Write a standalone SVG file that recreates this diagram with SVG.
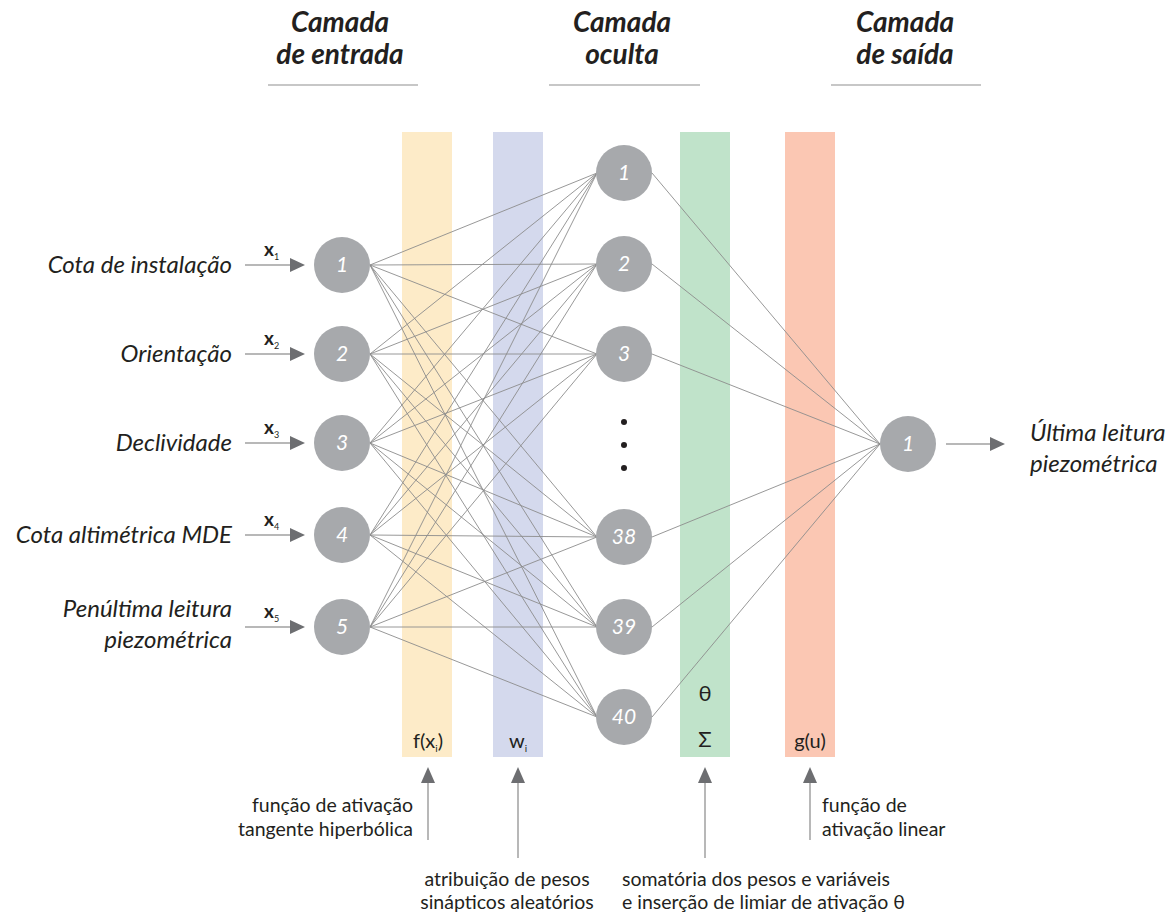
<svg xmlns="http://www.w3.org/2000/svg" width="1176" height="913" viewBox="0 0 1176 913">
<defs>
<style>
.hdr{font-family:Lato,"Open Sans",sans-serif;font-weight:bold;font-style:italic;font-size:28px;fill:#231f20;text-anchor:middle}
.lbl{font-family:Lato,"Open Sans",sans-serif;font-style:italic;font-size:24px;fill:#231f20}
.ann{font-family:Lato,"Open Sans",sans-serif;font-size:19.5px;fill:#231f20}
.sym{font-family:Lato,"Open Sans",sans-serif;font-size:20px;fill:#231f20;text-anchor:middle}
.sub{font-size:10px}
.xl{font-family:Lato,"Open Sans",sans-serif;font-size:19px;font-weight:bold;fill:#231f20}
.node circle{fill:#a7a9ac}
.node text{font-family:Lato,"Open Sans",sans-serif;font-style:italic;font-size:21px;fill:#ffffff;text-anchor:middle}
.conn line{stroke:#8c8c8c;stroke-width:0.9}
.rule{stroke:#b5b5b5;stroke-width:1.5}
.arr{stroke:#a0a0a0;stroke-width:1.5}
.head{fill:#6d6e71}
</style>
</defs>
<rect width="1176" height="913" fill="#ffffff"/>
<g id="headers">
<text class="hdr" x="340" y="32">Camada</text>
<text class="hdr" x="340" y="64">de entrada</text>
<line class="rule" x1="268" y1="85" x2="418" y2="85"/>
<text class="hdr" x="622" y="32">Camada</text>
<text class="hdr" x="622" y="64">oculta</text>
<line class="rule" x1="549" y1="85" x2="700" y2="85"/>
<text class="hdr" x="905" y="32">Camada</text>
<text class="hdr" x="905" y="64">de saída</text>
<line class="rule" x1="831" y1="85" x2="981" y2="85"/>
</g>
<g id="bars">
<rect x="402" y="132" width="50" height="625" fill="#fdebc8"/>
<rect x="493" y="132" width="50" height="625" fill="#d4d9ed"/>
<rect x="680" y="132" width="50" height="625" fill="#c0e3ca"/>
<rect x="785" y="132" width="50" height="625" fill="#fbc7b3"/>
<text class="sym" x="428" y="748">f(x<tspan class="sub" dy="4">i</tspan><tspan dy="-4">)</tspan></text>
<text class="sym" x="518" y="748">w<tspan class="sub" dy="4">i</tspan></text>
<text class="sym" x="705" y="701" style="font-size:22px">θ</text>
<text class="sym" x="705" y="747" style="font-size:22px">Σ</text>
<text class="sym" x="810" y="748">g(u)</text>
</g>
<g id="connectors" class="conn">
<line x1="370" y1="265" x2="597" y2="173"/><line x1="370" y1="265" x2="597" y2="264"/><line x1="370" y1="265" x2="597" y2="354"/><line x1="370" y1="265" x2="597" y2="537"/><line x1="370" y1="265" x2="597" y2="627"/><line x1="370" y1="265" x2="597" y2="717"/>
<line x1="370" y1="354" x2="597" y2="173"/><line x1="370" y1="354" x2="597" y2="264"/><line x1="370" y1="354" x2="597" y2="354"/><line x1="370" y1="354" x2="597" y2="537"/><line x1="370" y1="354" x2="597" y2="627"/><line x1="370" y1="354" x2="597" y2="717"/>
<line x1="370" y1="443" x2="597" y2="173"/><line x1="370" y1="443" x2="597" y2="264"/><line x1="370" y1="443" x2="597" y2="354"/><line x1="370" y1="443" x2="597" y2="537"/><line x1="370" y1="443" x2="597" y2="627"/><line x1="370" y1="443" x2="597" y2="717"/>
<line x1="370" y1="535" x2="597" y2="173"/><line x1="370" y1="535" x2="597" y2="264"/><line x1="370" y1="535" x2="597" y2="354"/><line x1="370" y1="535" x2="597" y2="537"/><line x1="370" y1="535" x2="597" y2="627"/><line x1="370" y1="535" x2="597" y2="717"/>
<line x1="370" y1="627" x2="597" y2="173"/><line x1="370" y1="627" x2="597" y2="264"/><line x1="370" y1="627" x2="597" y2="354"/><line x1="370" y1="627" x2="597" y2="537"/><line x1="370" y1="627" x2="597" y2="627"/><line x1="370" y1="627" x2="597" y2="717"/>
<line x1="652" y1="173" x2="880" y2="444"/><line x1="652" y1="264" x2="880" y2="444"/><line x1="652" y1="354" x2="880" y2="444"/><line x1="652" y1="537" x2="880" y2="444"/><line x1="652" y1="627" x2="880" y2="444"/><line x1="652" y1="717" x2="880" y2="444"/>
</g>
<g id="inputs">
<text class="lbl" x="232" y="273" text-anchor="end">Cota de instalação</text>
<text class="lbl" x="232" y="362" text-anchor="end">Orientação</text>
<text class="lbl" x="232" y="451" text-anchor="end">Declividade</text>
<text class="lbl" x="232" y="543" text-anchor="end">Cota altimétrica MDE</text>
<text class="lbl" x="232" y="617" text-anchor="end">Penúltima leitura</text>
<text class="lbl" x="232" y="648" text-anchor="end">piezométrica</text>
<g class="arr"><line x1="245" y1="265" x2="292" y2="265"/><line x1="245" y1="354" x2="292" y2="354"/><line x1="245" y1="443" x2="292" y2="443"/><line x1="245" y1="535" x2="292" y2="535"/><line x1="245" y1="627" x2="292" y2="627"/></g>
<g class="head"><polygon points="290,258 305,265 290,272"/><polygon points="290,347 305,354 290,361"/><polygon points="290,436 305,443 290,450"/><polygon points="290,528 305,535 290,542"/><polygon points="290,620 305,627 290,634"/></g>
<g class="xl">
<text x="264" y="256">x<tspan dy="4" style="font-size:9px;font-weight:normal">1</tspan></text>
<text x="264" y="345">x<tspan dy="4" style="font-size:9px;font-weight:normal">2</tspan></text>
<text x="264" y="434">x<tspan dy="4" style="font-size:9px;font-weight:normal">3</tspan></text>
<text x="264" y="526">x<tspan dy="4" style="font-size:9px;font-weight:normal">4</tspan></text>
<text x="264" y="618">x<tspan dy="4" style="font-size:9px;font-weight:normal">5</tspan></text>
</g>
</g>
<g id="in1" class="node"><circle cx="342" cy="265" r="28"/><text x="342" y="272">1</text></g>
<g id="in2" class="node"><circle cx="342" cy="354" r="28"/><text x="342" y="361">2</text></g>
<g id="in3" class="node"><circle cx="342" cy="443" r="28"/><text x="342" y="450">3</text></g>
<g id="in4" class="node"><circle cx="342" cy="535" r="28"/><text x="342" y="542">4</text></g>
<g id="in5" class="node"><circle cx="342" cy="627" r="28"/><text x="342" y="634">5</text></g>
<g id="h1" class="node"><circle cx="624" cy="173" r="28"/><text x="624" y="180">1</text></g>
<g id="h2" class="node"><circle cx="624" cy="264" r="28"/><text x="624" y="271">2</text></g>
<g id="h3" class="node"><circle cx="624" cy="354" r="28"/><text x="624" y="361">3</text></g>
<g id="h38" class="node"><circle cx="624" cy="537" r="28"/><text x="624" y="544">38</text></g>
<g id="h39" class="node"><circle cx="624" cy="627" r="28"/><text x="624" y="634">39</text></g>
<g id="h40" class="node"><circle cx="624" cy="717" r="28"/><text x="624" y="724">40</text></g>
<g id="dots" fill="#231f20"><circle cx="624" cy="422" r="3"/><circle cx="624" cy="445" r="3"/><circle cx="624" cy="468" r="3"/></g>
<g id="out1" class="node"><circle cx="908" cy="444" r="28"/><text x="908" y="451">1</text></g>
<g id="output">
<line class="arr" x1="946" y1="444" x2="992" y2="444"/>
<polygon class="head" points="990,437 1005,444 990,451"/>
<text class="lbl" x="1030" y="441">Última leitura</text>
<text class="lbl" x="1030" y="472">piezométrica</text>
</g>
<g id="annotations">
<g class="arr"><line x1="428" y1="782" x2="428" y2="840"/><line x1="518" y1="782" x2="518" y2="858"/><line x1="705" y1="782" x2="705" y2="858"/><line x1="810" y1="782" x2="810" y2="840"/></g>
<g class="head"><polygon points="421,783 428,767 435,783"/><polygon points="511,783 518,767 525,783"/><polygon points="698,783 705,767 712,783"/><polygon points="803,783 810,767 817,783"/></g>
<text class="ann" x="413" y="812" text-anchor="end">função de ativação</text>
<text class="ann" x="413" y="836" text-anchor="end">tangente hiperbólica</text>
<text class="ann" x="822" y="812">função de</text>
<text class="ann" x="822" y="836">ativação linear</text>
<text class="ann" x="507" y="886" text-anchor="middle">atribuição de pesos</text>
<text class="ann" x="507" y="909" text-anchor="middle">sinápticos aleatórios</text>
<text class="ann" x="622" y="886">somatória dos pesos e variáveis</text>
<text class="ann" x="622" y="909">e inserção de limiar de ativação θ</text>
</g>
</svg>
